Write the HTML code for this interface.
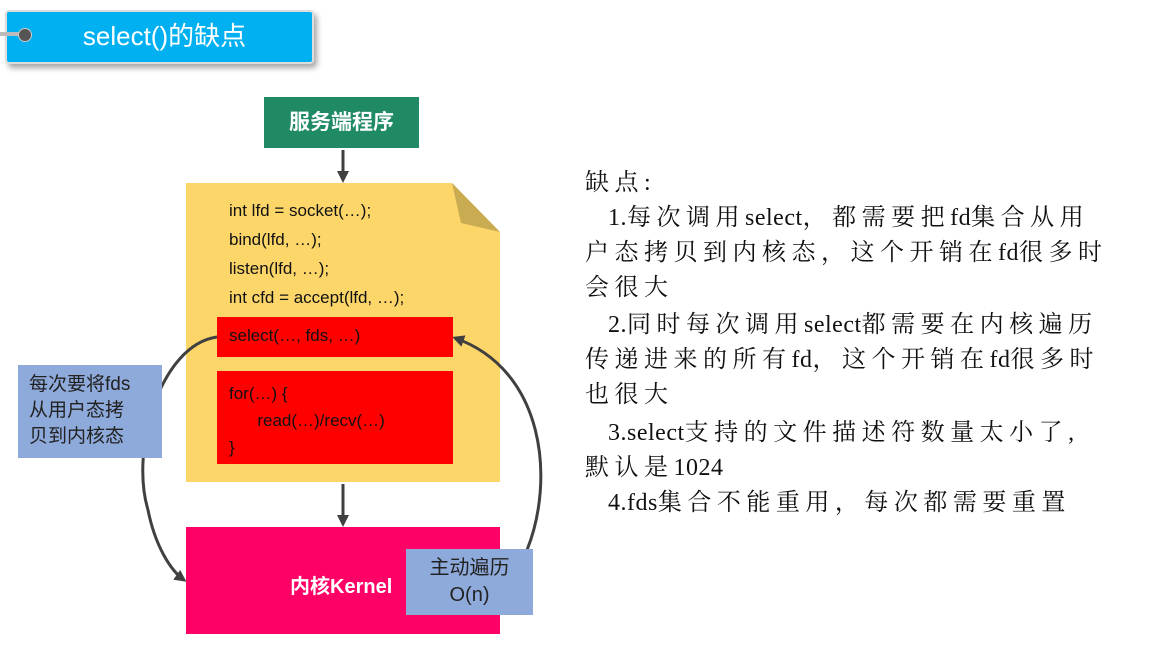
<!DOCTYPE html>
<html><head><meta charset="utf-8"><style>
body{margin:0;width:1153px;height:645px;background:#fff;position:relative;overflow:hidden;font-family:"Liberation Sans","Noto Sans CJK SC",sans-serif}
.a{position:absolute}
.r{position:absolute;left:585px;font-family:"Liberation Serif","Noto Serif CJK SC",serif;font-size:24px;color:#111;white-space:nowrap;letter-spacing:5.5px}
.r b{font-weight:normal;letter-spacing:0.5px}
</style></head><body>
<div class="a" style="left:5px;top:10px;width:305px;height:50px;background:#00b0f0;border:2px solid #ddd;border-radius:4px;box-shadow:3px 4px 6px rgba(0,0,0,.35)"></div>
<div class="a" style="left:0;top:32px;width:22px;height:4px;background:#bbb"></div>
<div class="a" style="left:18px;top:28px;width:12px;height:12px;border-radius:50%;background:#555;border:1px solid #ccc"></div>
<div class="a" style="left:12px;top:14px;width:305px;text-align:center;color:#fff;font-size:26px;line-height:44px">select()的缺点</div>

<div class="a" style="left:264px;top:97px;width:155px;height:51px;background:#1f8a64;color:#fff;font-weight:bold;font-size:21px;line-height:51px;text-align:center">服务端程序</div>

<svg class="a" style="left:0;top:0" width="1153" height="645">
<defs><marker id="m" markerWidth="12" markerHeight="12" refX="9" refY="6" orient="auto" markerUnits="userSpaceOnUse"><path d="M0,0L12,6L0,12z" fill="#404040"/></marker></defs>
<polygon points="186,183 452,183 500,232 500,482 186,482" fill="#fdd66a"/>
<polygon points="452,183 461,223 500,232" fill="#c9ab52"/>
<line x1="343" y1="150" x2="343" y2="180" stroke="#404040" stroke-width="3" marker-end="url(#m)"/>
<line x1="343" y1="484" x2="343" y2="524" stroke="#404040" stroke-width="3" marker-end="url(#m)"/>
<rect x="186" y="527" width="314" height="107" fill="#ff0066"/>
<path d="M217,337 C160,345 130,450 148,510 C155,545 170,570 184,580" fill="none" stroke="#404040" stroke-width="3" marker-end="url(#m)"/>
<path d="M527,550 C555,480 545,370 455,338" fill="none" stroke="#404040" stroke-width="3" marker-end="url(#m)"/>
</svg>
<div class="a" style="left:217px;top:317px;width:236px;height:40px;background:#f00"></div>
<div class="a" style="left:217px;top:371px;width:236px;height:93px;background:#f00"></div>
<div class="a" style="left:229px;top:196px;font-size:17px;line-height:29px;color:#111">int lfd = socket(…);<br>bind(lfd, …);<br>listen(lfd, …);<br>int cfd = accept(lfd, …);</div>
<div class="a" style="left:229px;top:326px;font-size:17px;color:#111">select(…, fds, …)</div>
<div class="a" style="left:229px;top:380px;font-size:17px;line-height:27px;color:#111">for(…) {<br>&nbsp;&nbsp;&nbsp;&nbsp;&nbsp;&nbsp;read(…)/recv(…)<br>}</div>
<div class="a" style="left:18px;top:365px;width:144px;height:93px;background:#8eaadb;font-size:19px;line-height:26px;color:#222;padding:7px 0 0 11px;box-sizing:border-box">每次要将fds<br>从用户态拷<br>贝到内核态</div>
<div class="a" style="left:290px;top:570px;color:#fff;font-weight:bold;font-size:20px">内核Kernel</div>
<div class="a" style="left:406px;top:549px;width:127px;height:66px;background:#8eaadb;text-align:center;font-size:20px;line-height:27px;color:#222;padding-top:6px;box-sizing:border-box">主动遍历<br>O(n)</div>

<div class="r" style="top:162px">缺点:</div>
<div class="r" style="top:197px">&nbsp;&nbsp;<b>1.</b>每次调用<b>select</b>，都需要把<b>fd</b>集合从用</div>
<div class="r" style="top:232px">户态拷贝到内核态，这个开销在<b>fd</b>很多时</div>
<div class="r" style="top:267px">会很大</div>
<div class="r" style="top:304px">&nbsp;&nbsp;<b>2.</b>同时每次调用<b>select</b>都需要在内核遍历</div>
<div class="r" style="top:339px">传递进来的所有<b>fd</b>，这个开销在<b>fd</b>很多时</div>
<div class="r" style="top:374px">也很大</div>
<div class="r" style="top:412px">&nbsp;&nbsp;<b>3.select</b>支持的文件描述符数量太小了,</div>
<div class="r" style="top:447px">默认是<b>1024</b></div>
<div class="r" style="top:482px">&nbsp;&nbsp;<b>4.fds</b>集合不能重用，每次都需要重置</div>
</body></html>
